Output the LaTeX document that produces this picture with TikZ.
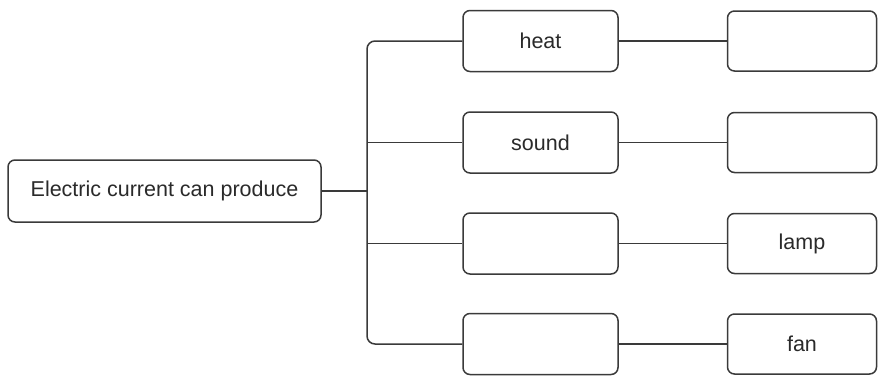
\documentclass[tikz,border=0pt]{standalone}
\usepackage{fontspec}
\setmainfont{Liberation Sans}
\definecolor{linegray}{HTML}{3A3A3A}
\definecolor{textgray}{HTML}{2A2A2A}
\begin{document}
\begin{tikzpicture}[x=1pt,y=-1pt,
  box/.style={draw=linegray, line width=1.5pt, rounded corners=7pt, fill=white,
    inner sep=0pt, font=\fontsize{21.5}{25}\selectfont, text=textgray},
  mainbox/.style={box, minimum width=313pt, minimum height=62pt},
  midbox/.style={box, minimum width=155pt, minimum height=61pt},
  endbox/.style={box, minimum width=149pt, minimum height=60pt},
  link/.style={draw=linegray, line width=1.5pt}]
\useasboundingbox (0,0) rectangle (878,376);
\fill[white] (0,0) rectangle (878,376);

\node[mainbox] (main) at (164.5,191) {Electric current can produce};

\node[midbox] (m1) at (540.5,41) {heat};
\node[midbox] (m2) at (540.5,142.5) {sound};
\node[midbox] (m3) at (540.5,243.5) {};
\node[midbox] (m4) at (540.5,344) {};

\node[endbox] (e1) at (802,41) {};
\node[endbox] (e2) at (802,142.5) {};
\node[endbox] (e3) at (802,243.5) {lamp};
\node[endbox] (e4) at (802,344) {fan};

\coordinate (j) at (367,191);

\draw[link] (main.east) -- (j);
\draw[link, rounded corners=8pt] (m1.west) -| (j);
\draw[link, rounded corners=8pt] (m4.west) -| (j);
\draw[link] (m2.west) -- (m2.west -| j);
\draw[link] (m3.west) -- (m3.west -| j);

\draw[link] (m1.east) -- (e1.west);
\draw[link] (m2.east) -- (e2.west);
\draw[link] (m3.east) -- (e3.west);
\draw[link] (m4.east) -- (e4.west);
\end{tikzpicture}
\end{document}
